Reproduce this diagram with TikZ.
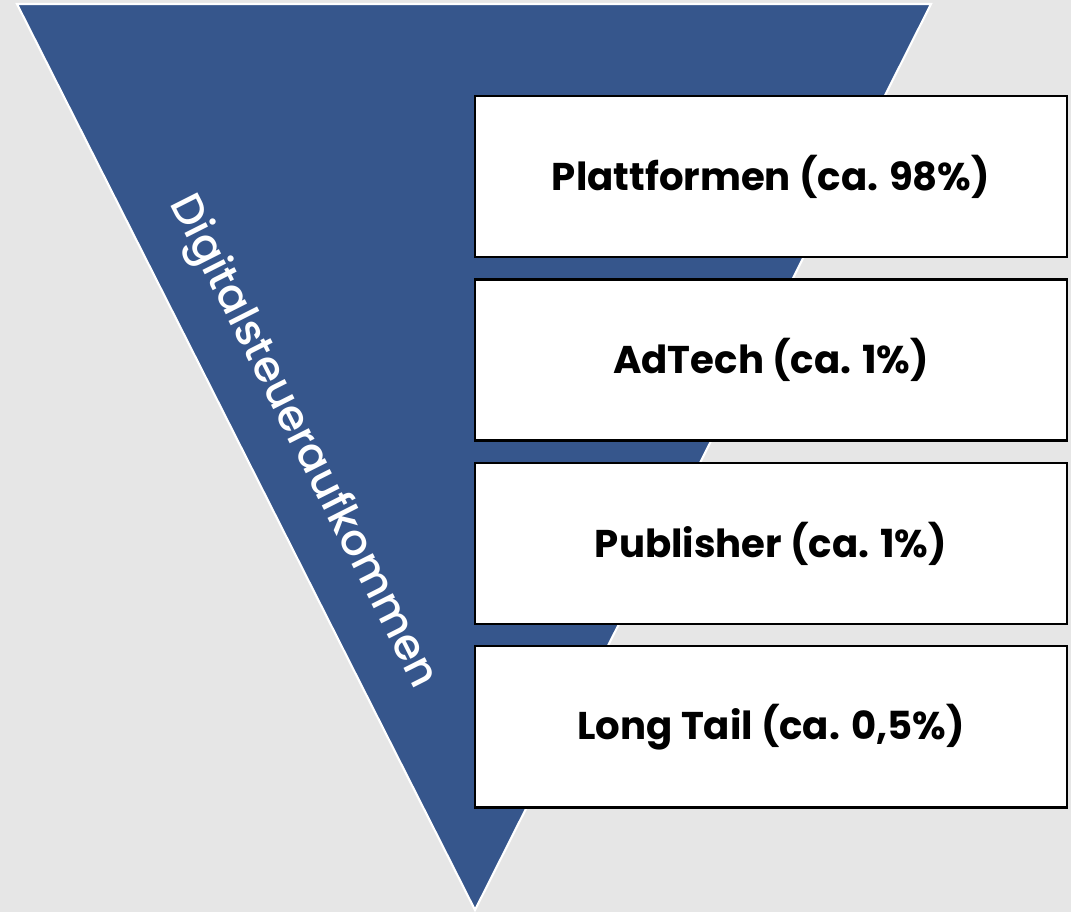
\documentclass[tikz,border=0pt]{standalone}
\usepackage{fontspec}
\setmainfont{Poppins}
\newfontfamily\medfont{Poppins-Medium.ttf}
\usetikzlibrary{positioning,calc}
\definecolor{bggray}{HTML}{E6E6E6}
\definecolor{funnelblue}{HTML}{36568C}

\begin{document}
\begin{tikzpicture}[
    x=0.025cm,y=-0.025cm,
    node distance=0.5cm,
    share/.style={rectangle,draw=black,fill=white,line width=1.6pt,minimum width=14.8cm,minimum height=4.03cm,font=\bfseries\fontsize{27.5}{30}\selectfont},
    funnel/.style={fill=funnelblue,draw=white,line width=1.5pt}
    ]
        \fill [bggray] (0,0) rectangle (1071,912);
        \coordinate (tl) at (17,4);
        \coordinate (tr) at (931,4);
        \coordinate (bt) at (475,910);
        \draw [funnel] (tl) -- (tr) -- (bt) -- cycle;
        \node [text=white,rotate=-63.2,font=\medfont\fontsize{30.8}{33}\selectfont](total) at (302,442) {Digitalsteueraufkommen};
        \node [share](plat) at (771,176.5) {Plattformen (ca. 98\%)};
        \node [share](adtech) [below=of plat] {AdTech (ca. 1\%)};
        \node [share](pub) [below=of adtech] {Publisher (ca. 1\%)};
        \node [share](tail) [below=of pub] {Long Tail (ca. 0,5\%)};
\end{tikzpicture}
\end{document}
